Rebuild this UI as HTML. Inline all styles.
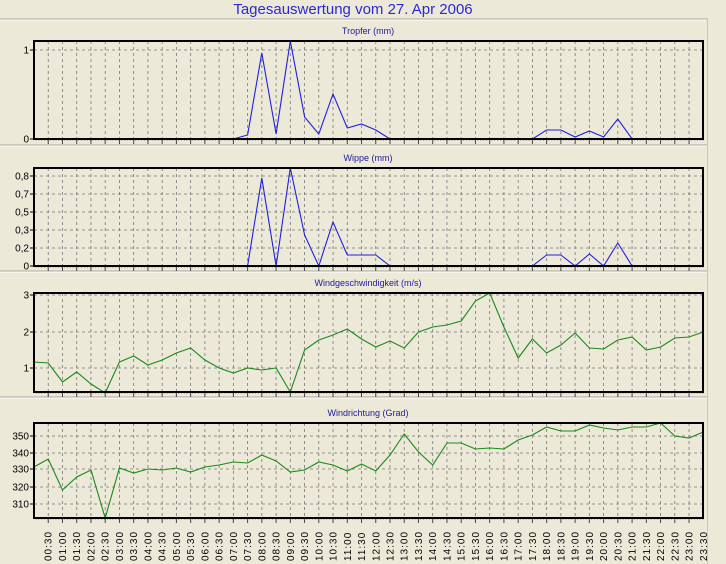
<!DOCTYPE html>
<html><head><meta charset="utf-8"><style>
html,body{margin:0;padding:0;background:#ece9d8;}
svg{display:block;}
text{font-family:"Liberation Sans",sans-serif;}
</style></head><body>
<svg id="s" width="726" height="564" xmlns="http://www.w3.org/2000/svg"></svg>
<script>
var s='';
s+='<rect width="726" height="564" fill="#ece9d8"/>';
s+='<text x="353" y="14" text-anchor="middle" font-size="15" fill="#2a2ad0">Tagesauswertung vom 27. Apr 2006</text>';
[19,145,271,397].forEach(function(y){s+='<line x1="0" y1="'+y+'" x2="708" y2="'+y+'" stroke="#a8a898"/><line x1="0" y1="'+(y+1)+'" x2="708" y2="'+(y+1)+'" stroke="#fff"/>';});
s+='<line x1="707.5" y1="19" x2="707.5" y2="564" stroke="#c8c6b8"/>';
var X0=34,DX=14.24,XR=703;
function panel(top,bot,title,yt,col,data){
 s+='<text x="368" y="'+(top-7)+'" text-anchor="middle" font-size="9" fill="#1a1aa0">'+title+'</text>';
 for(var i=1;i<=46;i++){var x=X0+DX*i;s+='<line x1="'+x+'" y1="'+top+'" x2="'+x+'" y2="'+bot+'" stroke="#777" stroke-dasharray="3,3" stroke-width="0.8"/>';
  s+='<line x1="'+x+'" y1="'+bot+'" x2="'+x+'" y2="'+(bot+5)+'" stroke="#444"/>';}
 for(var x=X0+2;x<XR;x+=2.85){s+='<line x1="'+x+'" y1="'+bot+'" x2="'+x+'" y2="'+(bot+2)+'" stroke="#888" stroke-width="0.6"/>';}
 yt.forEach(function(t){s+='<line x1="'+X0+'" y1="'+t[1]+'" x2="'+XR+'" y2="'+t[1]+'" stroke="#777" stroke-dasharray="3,3" stroke-width="0.8"/>';
  s+='<line x1="'+(X0-4)+'" y1="'+t[1]+'" x2="'+X0+'" y2="'+t[1]+'" stroke="#000"/>';
  s+='<text x="'+(X0-5)+'" y="'+(t[1]+3.5)+'" text-anchor="end" font-size="10" font-family="Liberation Mono" fill="#000">'+t[0]+'</text>';});
 var p=data.map(function(d){return (X0+DX*d[0]).toFixed(1)+','+d[1];}).join(' ');
 s+='<polyline points="'+p+'" fill="none" stroke="'+col+'" stroke-width="1.1"/>';
 s+='<rect x="'+X0+'" y="'+top+'" width="'+(XR-X0)+'" height="'+(bot-top)+'" fill="none" stroke="#000" stroke-width="2"/>';
}
function seq(arr){return arr.map(function(y,i){return [i,y];});}
var z1=[[0,139],[14,139],[15,135],[16,53],[17,134],[18,41],[19,117],[20,134],[21,94],[22,128],[23,124],[24,130],[25,139],[35,139],[36,130],[37,130],[38,137],[39,131],[40,137],[41,119],[42,139],[47,139]];
panel(41,139,'Tropfer (mm)',[['1',50],['0',139]],'#2020e0',z1);
var z2=[[0,266],[15,266],[16,178],[17,266],[18,168],[19,235],[20,266],[21,222],[22,255],[23,255],[24,255],[25,266],[35,266],[36,255],[37,255],[38,266],[39,254],[40,266],[41,243],[42,266],[47,266]];
panel(168,266,'Wippe (mm)',[['0,8',176],['0,7',194],['0,5',212],['0,3',230],['0,2',248],['0',266]],'#2020e0',z2);
var w3=[362,363,382,372,384,393,362,356,365,360,353,348,360,368,373,368,370,368,392,350,340,335,329,339,347,341,348,332,327,325,321,301,293,327,358,339,353,345,333,348,349,340,337,350,347,338,337,332];
panel(293,392,'Windgeschwindigkeit (m/s)',[['3',295],['2',332],['1',368]],'#1a8a1a',seq(w3));
var w4=[467,459,490,477,470,518,468,473,469,470,468,472,467,465,462,463,455,461,472,470,462,465,471,464,471,455,434,452,465,443,443,449,448,449,440,435,427,431,431,425,428,430,427,427,423,436,438,432];
panel(423,518,'Windrichtung (Grad)',[['350',436],['340',453],['330',469],['320',487],['310',504]],'#1a8a1a',seq(w4));
for(var i=1;i<=47;i++){var m=i*30,h=Math.floor(m/60),mm=m%60;var lab=(h<10?'0':'')+h+':'+(mm?'30':'00');
 var x=X0+DX*i+3.5;s+='<text transform="translate('+x+',561) rotate(-90)" font-size="10" letter-spacing="1" font-family="Liberation Mono" fill="#000">'+lab+'</text>';}
document.getElementById('s').innerHTML=s;
</script>
</body></html>
